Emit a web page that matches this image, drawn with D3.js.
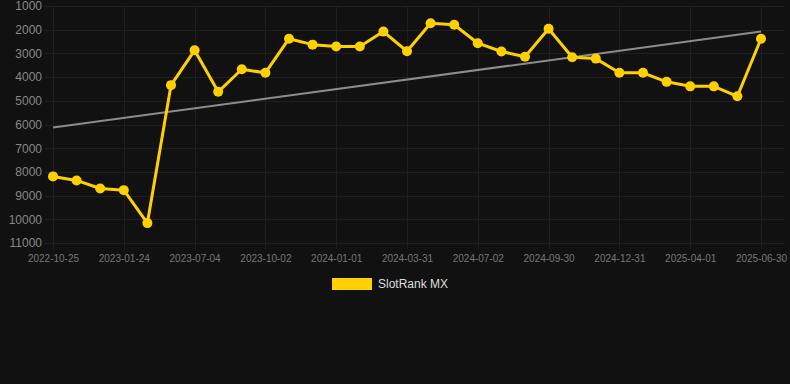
<!DOCTYPE html>
<html lang="en">
<head>
    <meta charset="UTF-8">
    <title>SlotRank MX</title>
    <script src="https://d3js.org/d3.v7.min.js"></script>
</head>

<style>
    body {
        margin: 0;
        background: #111111;
    }

    text {
        font-family: Arial, "Liberation Sans", sans-serif;
    }

    .grid line {
        stroke: #1f1f1f;
        stroke-width: 1px;
    }

    .axis text {
        fill: #888888;
    }
</style>

<body>
<svg width="790" height="384"></svg>

<script>
    // dates on the x axis (only every third one is labelled)
    var dates = [
        "2022-10-25", "2022-11-24", "2022-12-24", "2023-01-24", "2023-02-23",
        "2023-05-05", "2023-07-04", "2023-08-03", "2023-09-02", "2023-10-02",
        "2023-11-01", "2023-12-01", "2024-01-01", "2024-01-31", "2024-03-01",
        "2024-03-31", "2024-05-01", "2024-06-01", "2024-07-02", "2024-08-01",
        "2024-08-31", "2024-09-30", "2024-10-31", "2024-11-30", "2024-12-31",
        "2025-01-30", "2025-03-02", "2025-04-01", "2025-05-01", "2025-05-31",
        "2025-06-30"
    ];

    // rank for every date
    var ranks = [
        8190, 8360, 8700, 8770, 10160,
        4340, 2870, 4620, 3670, 3820,
        2380, 2630, 2710, 2710, 2080,
        2910, 1730, 1790, 2570, 2920,
        3140, 1960, 3160, 3220, 3820,
        3820, 4200, 4390, 4390, 4810,
        2380
    ];

    // trend line at first and last date
    var trend = [6130, 2080];

    var yTicks = [1000, 2000, 3000, 4000, 5000, 6000, 7000, 8000, 9000, 10000, 11000];
    var seriesName = "SlotRank MX";

    var svg = d3.select("svg"),
        width = +svg.attr("width"),
        height = +svg.attr("height");

    var plotLeft = 45, plotRight = 785, plotTop = 6, plotBottom = 243;

    var x = d3.scalePoint().domain(dates).range([53, 761]);
    var y = d3.scaleLinear().domain([1000, 11000]).range([plotTop, plotBottom]);

    var xLabels = dates.filter(function (d, i) { return i % 3 === 0; });

    // horizontal grid
    svg.append("g")
        .attr("class", "grid")
        .selectAll("line")
        .data(yTicks)
        .enter().append("line")
        .attr("x1", plotLeft)
        .attr("x2", plotRight)
        .attr("y1", function (d) { return Math.round(y(d)) + 0.5; })
        .attr("y2", function (d) { return Math.round(y(d)) + 0.5; });

    // vertical grid
    svg.append("g")
        .attr("class", "grid")
        .selectAll("line")
        .data(xLabels)
        .enter().append("line")
        .attr("x1", function (d) { return Math.round(x(d)) + 0.5; })
        .attr("x2", function (d) { return Math.round(x(d)) + 0.5; })
        .attr("y1", plotTop)
        .attr("y2", plotBottom + 6);

    // y axis
    var yAxis = svg.append("g")
        .attr("class", "axis")
        .attr("transform", "translate(" + (plotLeft - 3) + ",0)")
        .call(d3.axisLeft(y).tickValues(yTicks).tickFormat(d3.format("d")).tickSize(0));
    yAxis.select(".domain").remove();
    yAxis.selectAll("text")
        .attr("x", 0)
        .style("font-size", "12px");

    // x axis
    var xAxis = svg.append("g")
        .attr("class", "axis")
        .attr("transform", "translate(0," + plotBottom + ")")
        .call(d3.axisBottom(x).tickValues(xLabels).tickSize(0));
    xAxis.select(".domain").remove();
    xAxis.selectAll("text")
        .attr("y", 12)
        .style("font-size", "10px")
        .style("fill", "#777777");

    // trend line
    svg.append("line")
        .attr("x1", x(dates[0]))
        .attr("y1", y(trend[0]))
        .attr("x2", x(dates[dates.length - 1]))
        .attr("y2", y(trend[1]))
        .attr("stroke", "#8c8c8c")
        .attr("stroke-width", 2);

    var points = dates.map(function (d, i) { return {date: d, rank: ranks[i]}; });

    var line = d3.line()
        .x(function (d) { return x(d.date); })
        .y(function (d) { return y(d.rank); });

    svg.append("path")
        .datum(points)
        .attr("fill", "none")
        .attr("stroke", "#ffd000")
        .attr("stroke-width", 3)
        .attr("stroke-linejoin", "round")
        .attr("d", line);

    svg.append("g")
        .selectAll("circle")
        .data(points)
        .enter().append("circle")
        .attr("cx", function (d) { return x(d.date); })
        .attr("cy", function (d) { return y(d.rank); })
        .attr("r", 5)
        .attr("fill", "#ffd000");

    // legend
    var legend = svg.append("g").attr("transform", "translate(332,278)");
    legend.append("rect")
        .attr("width", 40)
        .attr("height", 12)
        .attr("fill", "#ffd000");
    legend.append("text")
        .attr("x", 46)
        .attr("y", 6)
        .attr("dy", "0.35em")
        .style("font-size", "12px")
        .style("fill", "#dddddd")
        .text(seriesName);
</script>
</body>
</html>
